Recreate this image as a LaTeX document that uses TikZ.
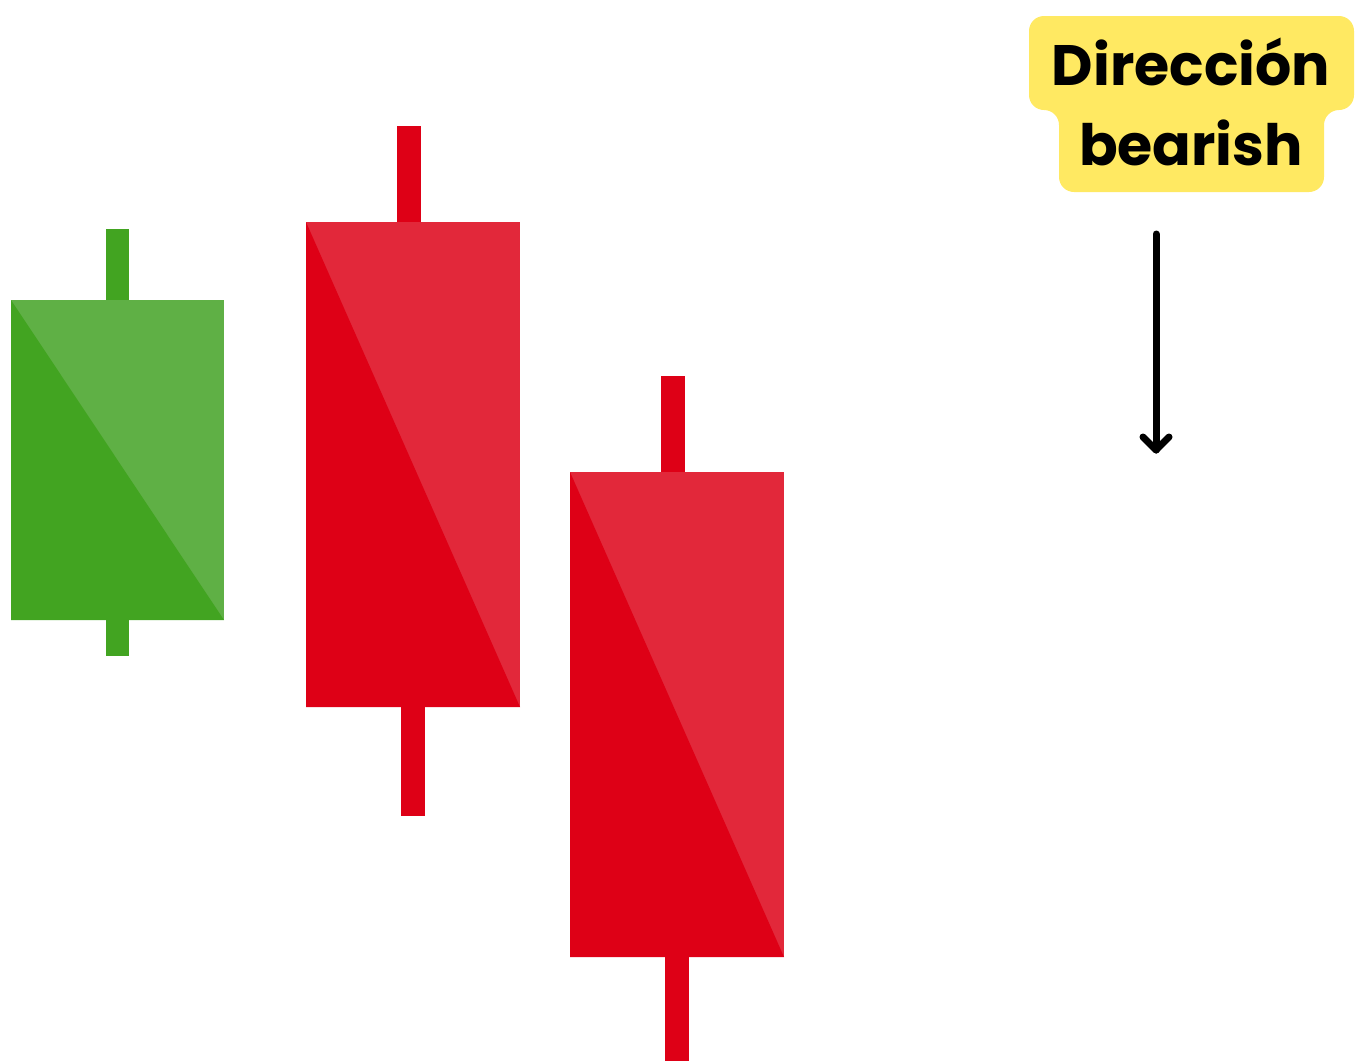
\documentclass[tikz,border=0pt]{standalone}
\usepackage{fontspec}
\setmainfont{Poppins}
\definecolor{gdark}{HTML}{42A421}
\definecolor{glight}{HTML}{5FB045}
\definecolor{rdark}{HTML}{DE0016}
\definecolor{rlight}{HTML}{E2283A}
\definecolor{labelyellow}{HTML}{FFE962}
\tikzset{
  wick/.style={fill=#1, draw=none},
  bodylight/.style={fill=#1, draw=none},
  bodydark/.style={fill=#1, draw=none},
  labeltext/.style={font=\fontsize{57}{80}\selectfont\bfseries, text=black, align=center, inner sep=0pt},
  dirarrow/.style={draw=black, line width=7pt, line cap=round, line join=round}
}
\begin{document}
\begin{tikzpicture}[x=1pt,y=-1pt]
\useasboundingbox (0,0) rectangle (1357,1061);
% green candle
\fill[wick=gdark] (106,229) rectangle (129,656);
\fill[bodylight=glight] (11,300) rectangle (224,620);
\fill[bodydark=gdark] (11,300) -- (11,620) -- (224,620) -- cycle;
% red candle 1
\fill[wick=rdark] (397,126) rectangle (421,223);
\fill[wick=rdark] (401,706) rectangle (425,816);
\fill[bodylight=rlight] (306,222) rectangle (520,707);
\fill[bodydark=rdark] (306,222) -- (306,707) -- (520,707) -- cycle;
% red candle 2
\fill[wick=rdark] (661,376) rectangle (685,473);
\fill[wick=rdark] (665,956) rectangle (689,1061);
\fill[bodylight=rlight] (570,472) rectangle (784,957);
\fill[bodydark=rdark] (570,472) -- (570,957) -- (784,957) -- cycle;
% label
\fill[labelyellow, rounded corners=15pt] (1029,16) -- (1354,16) -- (1354,110) -- (1324,110) -- (1324,192) -- (1059,192) -- (1059,110) -- (1029,110) -- cycle;
\node[labeltext, anchor=base] (l1) at (1191,85) {Dirección};
\node[labeltext, anchor=base] (l2) at (1191,165) {bearish};
% arrow
\coordinate (a1) at (1156,234);
\coordinate (a2) at (1156,450);
\draw[dirarrow] (a1) -- (a2);
\draw[dirarrow] (1143,437) -- (a2) -- (1169,437);
\end{tikzpicture}
\end{document}
